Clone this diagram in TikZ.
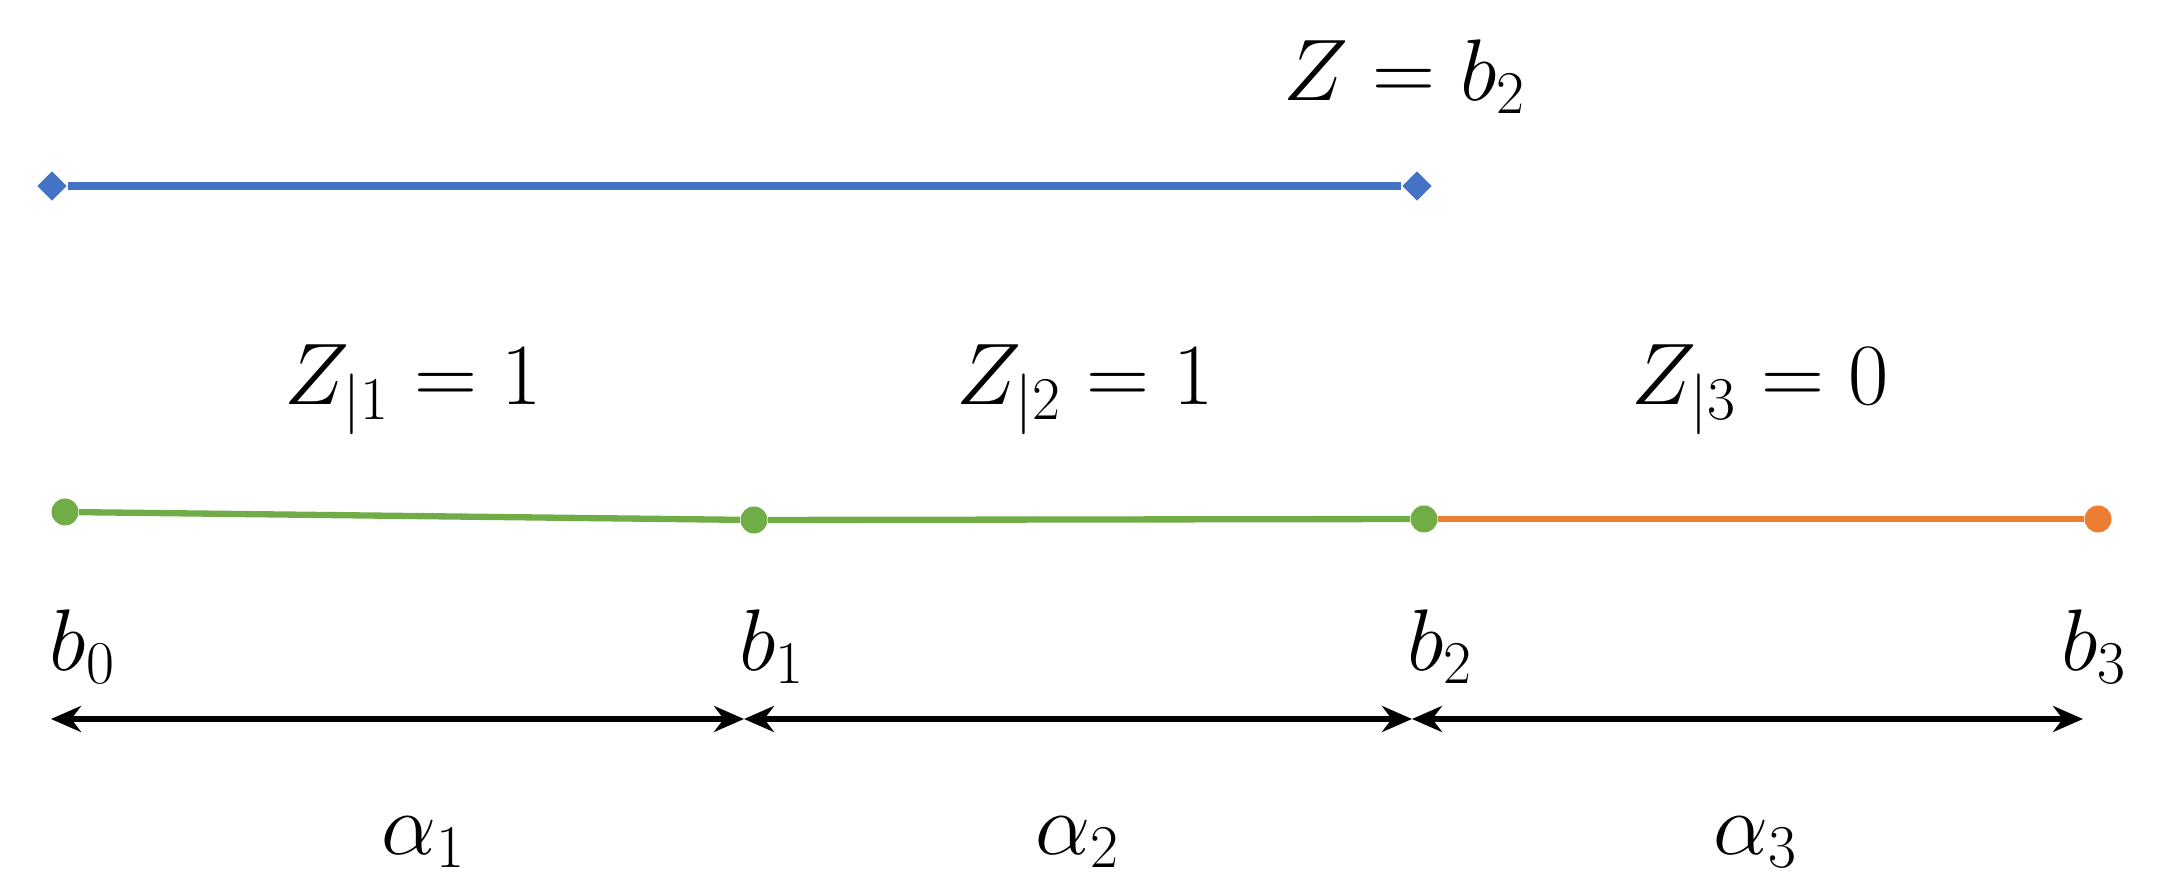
\documentclass[tikz,border=0pt]{standalone}
\usetikzlibrary{arrows.meta,shapes.geometric}
\definecolor{zblue}{HTML}{4472C4}
\definecolor{zgreen}{HTML}{70AD47}
\definecolor{zorange}{HTML}{ED7D31}
\tikzset{
  dot/.style={circle, inner sep=0pt, minimum size=0.27cm},
  tip/.style={diamond, fill=zblue, inner sep=0pt, minimum size=0.3cm},
  lbl/.style={font=\fontsize{23}{27}\selectfont},
  span/.style={black, line width=1.6pt, {Stealth[length=3mm, width=2.6mm]}-{Stealth[length=3mm, width=2.6mm]}}
}
\begin{document}
\begin{tikzpicture}
         \useasboundingbox (0,0) rectangle (21.76,8.89);

         \node [tip] (zleft)  at (0.52,7.03)  {};
         \node [tip] (zright) at (14.17,7.03) {};
         \node [lbl] (zlabel) at (14.05,8.12) {$Z = b_2$};
         \draw [zblue, line width=2pt] (zleft) -- (zright);

         \node [dot, fill=zgreen]  (b0) at (0.65,3.77)  {};
         \node [dot, fill=zgreen]  (b1) at (7.54,3.69)  {};
         \node [dot, fill=zgreen]  (b2) at (14.24,3.70) {};
         \node [dot, fill=zorange] (b3) at (20.98,3.70) {};

         \draw [zgreen, line width=1.8pt] (b0) -- (b1) -- (b2);
         \draw [zorange, line width=1.8pt] (b2) -- (b3);

         \node [lbl] (z1) at (4.13,4.99)  {$Z_{|1} = 1$};
         \node [lbl] (z2) at (10.85,4.99) {$Z_{|2} = 1$};
         \node [lbl] (z3) at (17.60,4.99) {$Z_{|3} = 0$};

         \node [lbl] (lb0) at (0.83,2.42)  {$b_0$};
         \node [lbl] (lb1) at (7.72,2.42)  {$b_1$};
         \node [lbl] (lb2) at (14.40,2.42) {$b_2$};
         \node [lbl] (lb3) at (20.94,2.42) {$b_3$};

         \coordinate (a0) at (0.51,1.70);
         \coordinate (a1) at (7.44,1.70);
         \coordinate (a2) at (14.12,1.70);
         \coordinate (a3) at (20.83,1.70);

         \draw [span] (a0) -- (a1);
         \draw [span] (a1) -- (a2);
         \draw [span] (a2) -- (a3);

         \node [lbl] (al1) at (4.24,0.47)  {$\alpha_1$};
         \node [lbl] (al2) at (10.78,0.47) {$\alpha_2$};
         \node [lbl] (al3) at (17.56,0.47) {$\alpha_3$};

\end{tikzpicture}
\end{document}
